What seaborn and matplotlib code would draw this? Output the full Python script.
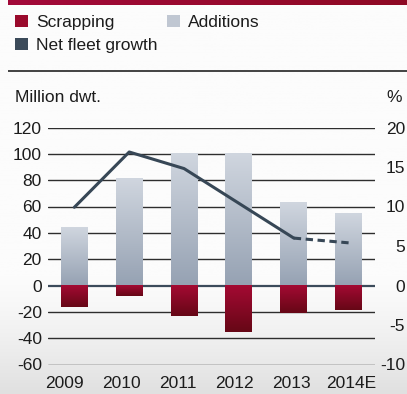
import numpy as np
import pandas as pd
import matplotlib
matplotlib.use("Agg")
import matplotlib.pyplot as plt
from matplotlib.colors import LinearSegmentedColormap
from matplotlib.patches import Rectangle
from matplotlib.transforms import ScaledTranslation
import seaborn as sns

# Dry bulk fleet development
years = ["2009", "2010", "2011", "2012", "2013", "2014E"]
additions = [44, 81, 100, 100, 63, 54]          # million dwt
scrapping = [-16, -8, -23, -35, -21, -18.5]     # million dwt
net_growth = [9.9, 16.9, 14.8, 10.4, 6.0, 5.4]  # %
n_actual = 5  # last year with actual (non-estimated) growth

left_ticks = [-60, -40, -20, 0, 20, 40, 60, 80, 100, 120]
right_ticks = [-10, -5, 0, 5, 10, 15, 20]

sns.set_theme(style="white")
plt.rcParams["font.family"] = ["Liberation Sans", "DejaVu Sans"]
plt.rcParams["axes.unicode_minus"] = False

FS = 12.5
TXT = "#1c1c1c"
W, H = 407, 394
fig = plt.figure(figsize=(W / 100, H / 100), dpi=100)
fig.patch.set_facecolor("#fcfcfc")

# soft grey wash along the bottom of the panel
bg = fig.add_axes([0, 0, 1, 1], zorder=-10)
bg.set_axis_off()
yy = np.linspace(1, 0, 400)
wash = np.clip((0.30 - yy) / 0.30, 0, 1) ** 1.3
bg_cmap = LinearSegmentedColormap.from_list("bgw", ["#fcfcfc", "#e0e0e0"])
bg.imshow(wash.reshape(-1, 1), aspect="auto", cmap=bg_cmap, vmin=0, vmax=1,
          extent=[0, 1, 0, 1])

# header band and separator
band_cmap = LinearSegmentedColormap.from_list("band", ["#a3093a", "#8e0a24"])
bg.imshow(np.linspace(0, 1, 256).reshape(1, -1), aspect="auto", cmap=band_cmap,
          extent=[8 / W, 1, 1 - 5 / H, 1], zorder=2)
bg.plot([8 / W, 1], [1 - 70.5 / H, 1 - 70.5 / H], color="#111111", lw=1.1,
        solid_capstyle="butt")
bg.set_xlim(0, 1)
bg.set_ylim(0, 1)

left, right = 48 / W, 375 / W
top, bottom = 1 - 127.5 / H, 1 - 364.5 / H
ax = fig.add_axes([left, bottom, right - left, top - bottom])
ax.patch.set_visible(False)

df = pd.DataFrame({"year": years, "additions": additions, "scrapping": scrapping})
sns.barplot(data=df, x="year", y="additions", color="#b0b9c7", width=0.49,
            ax=ax, zorder=3)
sns.barplot(data=df, x="year", y="scrapping", color="#8a0a24", width=0.49,
            ax=ax, zorder=3)

# vertical gradient fill for every bar
add_cmap = LinearSegmentedColormap.from_list("add", ["#d0d6df", "#96a2b3"])
scr_cmap = LinearSegmentedColormap.from_list("scr", ["#a40a33", "#660716"])
grad = np.linspace(0, 1, 256).reshape(-1, 1)
for p in list(ax.patches):
    x0, w = p.get_x(), p.get_width()
    h = p.get_height()
    y0, y1 = min(0, h), max(0, h)
    cmap = add_cmap if h > 0 else scr_cmap
    ax.imshow(grad, aspect="auto", cmap=cmap, extent=[x0, x0 + w, y0, y1],
              zorder=3, interpolation="bilinear")
    p.set_facecolor("none")
    p.set_edgecolor("none")

ax.set_xlim(-0.48, len(years) - 0.52)
ax.set_ylim(-60, 120)
ax.set_yticks(left_ticks)
ax.set_yticklabels([str(t) for t in left_ticks])

# horizontal rules at every left-scale tick, drawn under the bars
for t in left_ticks:
    if t == 0:
        ax.axhline(t, color="#3c4b5b", lw=1.6, zorder=1)
    else:
        ax.axhline(t, color="#2e2e2e", lw=1.0, zorder=1)

for s in ax.spines.values():
    s.set_visible(False)
ax.tick_params(axis="y", length=0, pad=4.5, labelsize=FS, labelcolor=TXT)
ax.tick_params(axis="x", length=0, pad=8.5, labelsize=FS, labelcolor=TXT)
ax.set_xlabel("")
ax.set_ylabel("")

# year labels sit on a slightly wider spacing than the bars
label_dx = [-10, -8, -6, -4, -2, 3]
for lab, dx in zip(ax.get_xticklabels(), label_dx):
    lab.set_transform(lab.get_transform() + ScaledTranslation(dx / 100, 0, fig.dpi_scale_trans))

# net fleet growth on the right-hand scale
ax2 = ax.twinx()
ax2.patch.set_visible(False)
idx = np.arange(len(years))
line_df = pd.DataFrame({"pos": idx, "growth": net_growth})
sns.lineplot(data=line_df.iloc[:n_actual], x="pos", y="growth", color="#374756",
             lw=2.2, ax=ax2, zorder=5)
sns.lineplot(data=line_df.iloc[n_actual - 1:], x="pos", y="growth", color="#374756",
             lw=2.2, ax=ax2, zorder=5, dashes=False, linestyle=(0, (2.4, 1.5)))
ax2.set_ylim(-10, 20)
ax2.set_yticks(right_ticks)
ax2.set_yticklabels([str(t) for t in right_ticks])
ax2.set_xlim(ax.get_xlim())
for s in ax2.spines.values():
    s.set_visible(False)
ax2.tick_params(axis="y", length=0, pad=21.6, labelsize=FS, labelcolor=TXT)
for lab in ax2.get_yticklabels():
    lab.set_horizontalalignment("right")
ax2.set_xlabel("")
ax2.set_ylabel("")

# axis captions
fig.text(15 / W, 1 - 97 / H, "Million dwt.", fontsize=FS, color=TXT,
         ha="left", va="center")
fig.text(402 / W, 1 - 97 / H, "%", fontsize=FS, color=TXT,
         ha="right", va="center")

# legend
handles = [
    Rectangle((0, 0), 1, 1, facecolor="#9a0a2c", edgecolor="none"),
    Rectangle((0, 0), 1, 1, facecolor="#3b4a59", edgecolor="none"),
    Rectangle((0, 0), 1, 1, facecolor="#c0c7d2", edgecolor="none"),
]
labels = ["Scrapping", "Net fleet growth", "Additions"]
fig.legend(handles, labels, ncol=2, frameon=False, loc="upper left",
           bbox_to_anchor=(15 / W, 1 - 15 / H), borderpad=0, borderaxespad=0,
           fontsize=FS, handlelength=0.72, handleheight=0.72, handletextpad=0.5,
           columnspacing=0.55, labelspacing=0.45, labelcolor=TXT)

fig.savefig("out.png", dpi=100, facecolor=fig.get_facecolor())
